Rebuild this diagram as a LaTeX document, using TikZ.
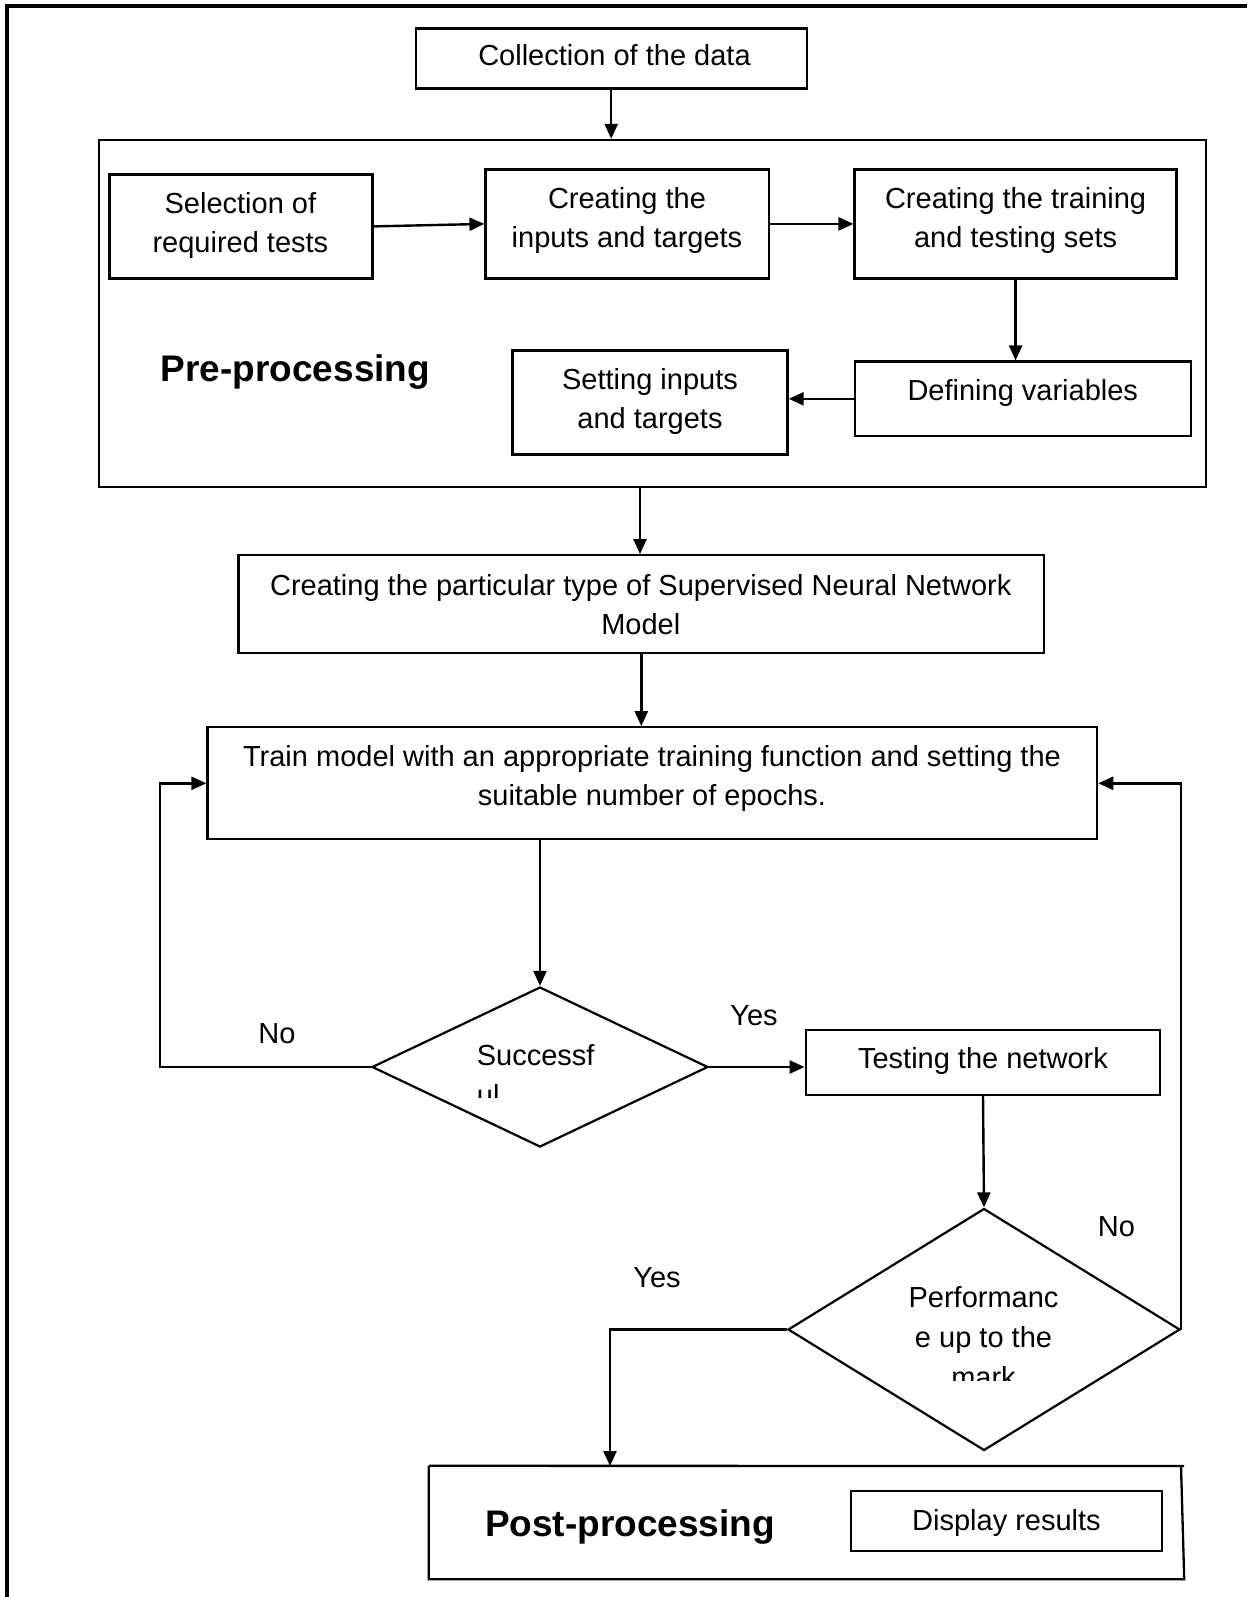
\documentclass[tikz,border=0pt]{standalone}
\usepackage{fontspec}
\setmainfont{Liberation Sans}
\usetikzlibrary{arrows.meta,shapes.geometric}
\begin{document}
\begin{tikzpicture}[x=1pt,y=-1pt,
  box/.style={draw, line width=2.3pt, rectangle, inner sep=0pt},
  txt/.style={font=\fontsize{29}{39}\selectfont, align=center, inner sep=0pt},
  big/.style={font=\fontsize{37}{44}\selectfont\bfseries, inner sep=0pt},
  dia/.style={draw, line width=2.2pt, diamond, inner sep=0pt},
  arr/.style={line width=2.4pt, -{Triangle[length=15pt,width=13pt]}},
  ]
\useasboundingbox (0,0) rectangle (1255,1597);

% page frame (left and top rules)
\draw[line width=3.2pt] (7,1597) -- (7,6) -- (1247,6);

% boxes
\node[box, minimum width=391pt, minimum height=60pt] (coll) at (611.2,58.5) {};
\node[box, minimum width=1107pt, minimum height=347pt] (pre) at (652.5,313.5) {};
\node[box, minimum width=263pt, minimum height=104pt] (sel) at (241,226.4) {};
\node[box, minimum width=283.5pt, minimum height=109pt] (inp) at (627.3,223.9) {};
\node[box, minimum width=322pt, minimum height=109pt] (trn) at (1015.6,223.9) {};
\node[box, minimum width=336pt, minimum height=74.4pt] (def) at (1022.8,398.8) {};
\node[box, minimum width=275pt, minimum height=104pt] (set) at (650,402.4) {};
\node[box, minimum width=805.8pt, minimum height=97.8pt] (part) at (641.3,604.1) {};
\node[box, minimum width=889.6pt, minimum height=112pt] (train) at (652.3,783.3) {};
\node[box, minimum width=354.5pt, minimum height=65pt] (test) at (983,1062.5) {};
\node[box, minimum width=311pt, minimum height=60pt] (disp) at (1006.5,1521) {};
\node[dia, minimum width=336pt, minimum height=160pt] (succ) at (540,1067) {};
\node[dia, minimum width=392pt, minimum height=242pt] (perf) at (984,1329.5) {};
\node[inner sep=0pt, minimum width=755pt, minimum height=113pt] (post) at (806.5,1522.5) {};
% post-processing frame, its right side slightly skewed
\draw[line width=2.3pt] (post.north west) -- (1184,1466)
  (1181,1466) -- (post.south east) -- (post.south west) -- (post.north west);

% texts
\node[txt] (collt) at (614.5,55.5) {Collection of the data};
\node[txt] (selt) at (240.4,226) {Selection of\\required tests};
\node[txt] (inpt) at (627,221) {Creating the\\inputs and targets};
\node[txt] (trnt) at (1015.6,221) {Creating the training\\and testing sets};
\node[txt] (deft) at (1022.8,393) {Defining variables};
\node[txt] (sett) at (650,401.5) {Setting inputs\\and targets};
\node[txt] (partt) at (640.8,604.5) {Creating the particular type of Supervised Neural Network\\Model};
\node[txt] (traint) at (652,778.5) {Train model with an appropriate training function and setting the\\suitable number of epochs.};
\node[txt] (testt) at (983,1060.5) {Testing the network};
\node[txt] (dispt) at (1006.5,1523) {Display results};
\node[big] (prel) at (295.4,372) {Pre-processing};
\node[big] (postl) at (630,1527) {Post-processing};

% decision texts, cut off by their frames
\begin{scope}
  \clip (440,1020) rectangle (660,1097);
  \node[txt, anchor=base west] (succt1) at (476.7,1065) {Successf};
  \node[txt, anchor=base west] (succt2) at (476.7,1105.5) {ul};
\end{scope}
\begin{scope}
  \clip (880,1270) rectangle (1090,1380.7);
  \node[txt, anchor=base] (perft1) at (983.5,1307) {Performanc};
  \node[txt, anchor=base] (perft2) at (983.5,1347) {e up to the};
  \node[txt, anchor=base] (perft3) at (983.5,1387) {mark};
\end{scope}

% branch labels
\node[txt] (no1) at (277,1034) {No};
\node[txt] (yes1) at (754,1015.6) {Yes};
\node[txt] (no2) at (1116.5,1227) {No};
\node[txt] (yes2) at (657,1277.5) {Yes};

% connectors
\draw[arr] (coll.south) -- (coll.south |- pre.north);
\draw[arr] (sel.east) -- (inp.west);
\draw[arr] (inp.east) -- (trn.west);
\draw[arr] (trn.south) -- (trn.south |- def.north);
\draw[arr] (def.west) -- (def.west -| set.east);
\draw[arr] (pre.south -| 640,0) -- (part.north -| 640,0);
\draw[arr] (part.south) -- (part.south |- train.north);
\draw[arr] (succ.north |- train.south) -- (succ.north);
\coordinate (loopL) at (160,783.3);
\draw[arr] (succ.west) -| (loopL) -- (train.west);
\draw[arr] (succ.east) -- (succ.east -| test.west);
\draw[arr] (test.south) -- (perf.north);
\draw[arr] (perf.east) |- (train.east);
\coordinate (drop) at (610,1466);
\draw[arr] (perf.west) -| (drop);
\end{tikzpicture}
\end{document}
